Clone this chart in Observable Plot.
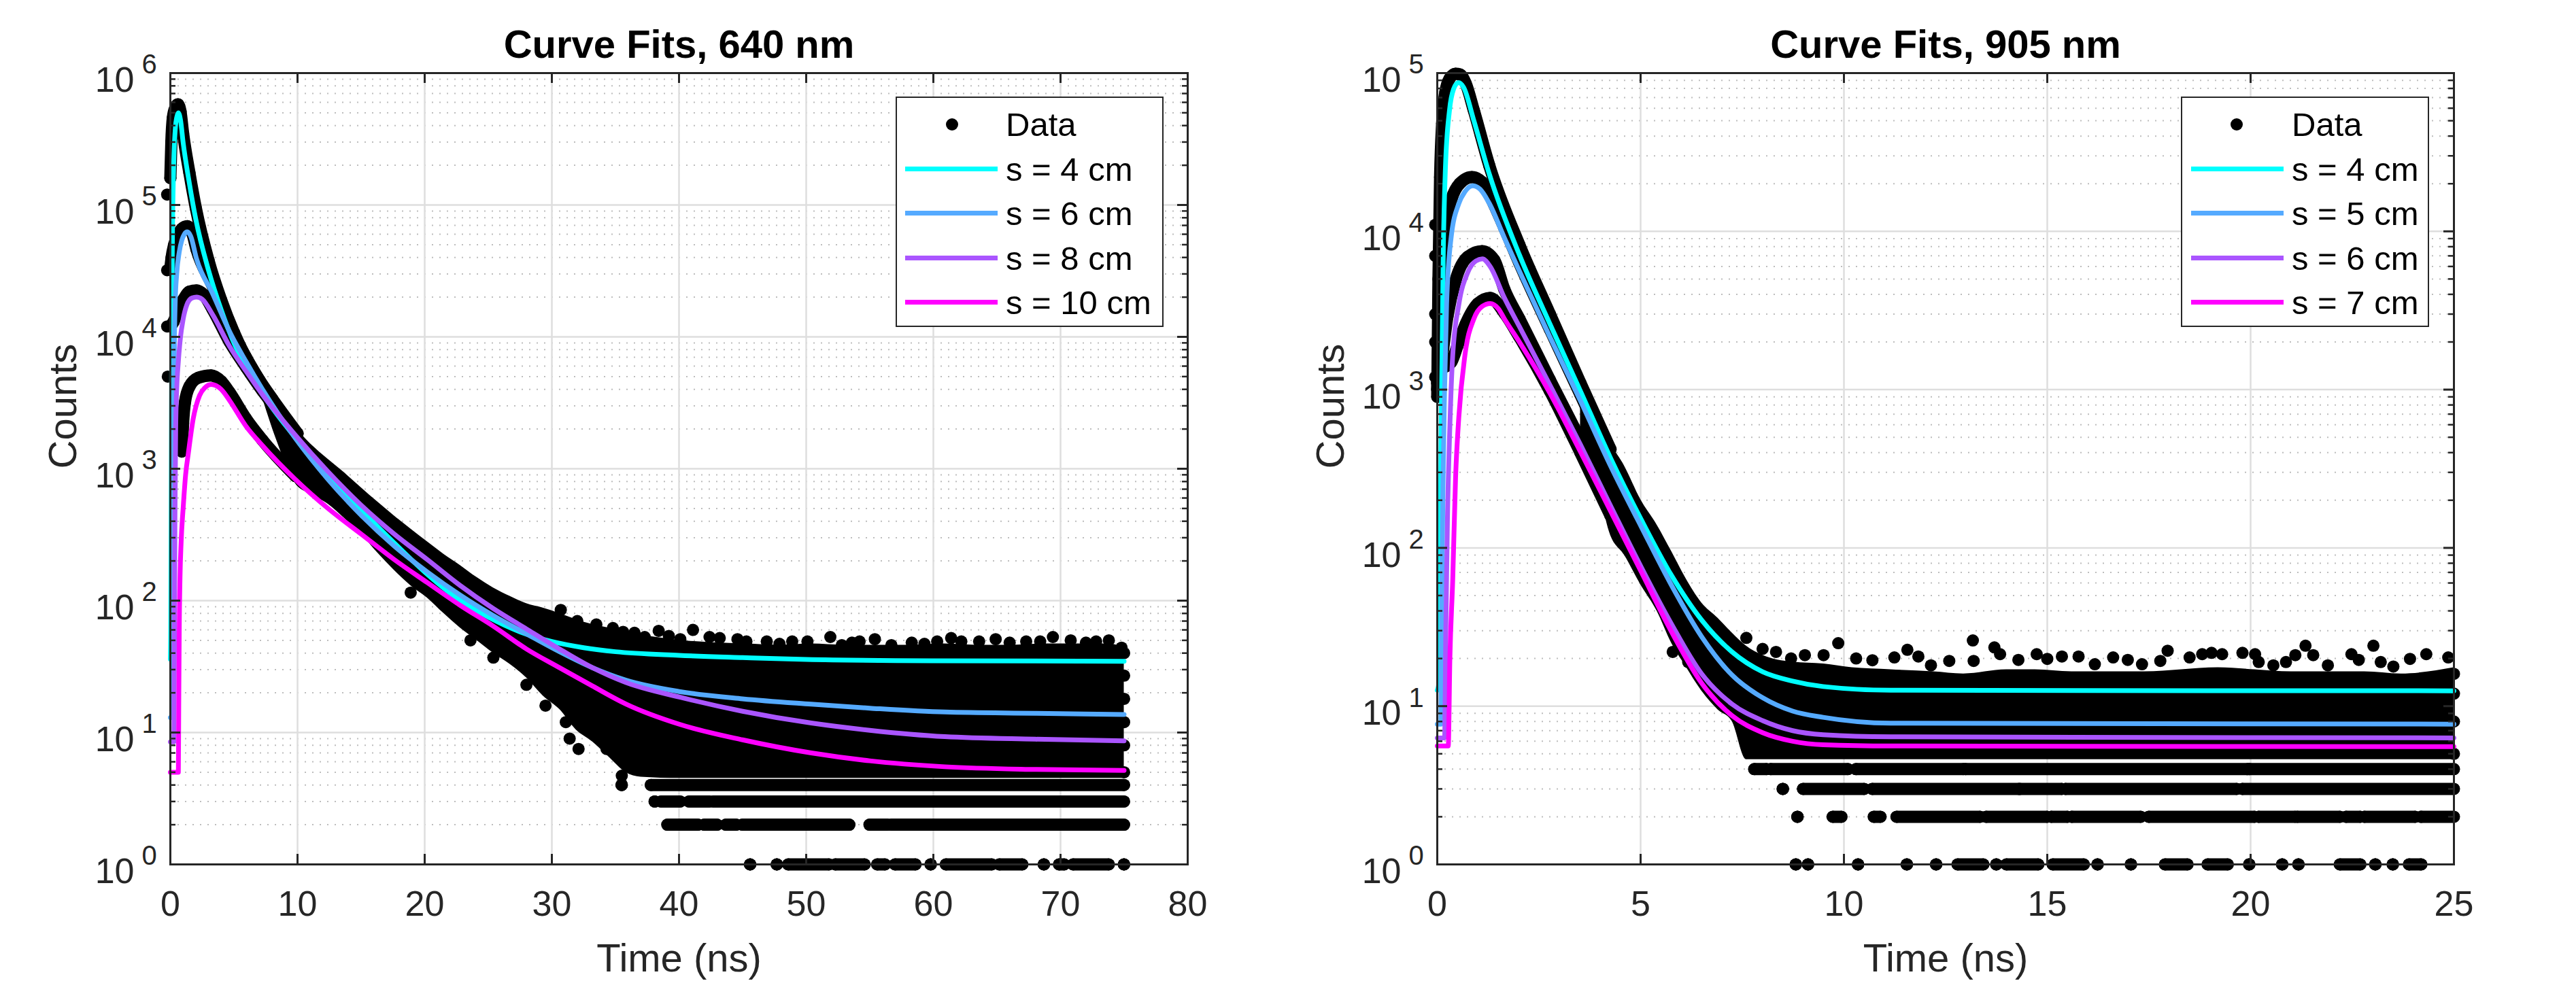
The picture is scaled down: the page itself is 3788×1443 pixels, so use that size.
<!DOCTYPE html>
<html>
<head>
<meta charset="utf-8">
<script src="https://cdn.jsdelivr.net/npm/d3@7"></script>
<script src="https://cdn.jsdelivr.net/npm/@observablehq/plot@0.6"></script>
<style>
  html, body { margin: 0; padding: 0; background: #fff; }
  body { width: 3788px; height: 1443px; position: relative; overflow: hidden; font-family: "Liberation Sans", Arial, sans-serif; }
  .panel { position: absolute; top: 0; width: 1894px; height: 1443px; }
  .panel svg { max-width: none !important; overflow: visible; }
  .legend { position: absolute; top: 142px; height: 339px; box-sizing: border-box; border: 2px solid #262626; background: #fff; }
  .lrow { position: absolute; left: 0; right: 0; height: 60px; }
  .lline { position: absolute; width: 136px; height: 7px; top: 26px; }
  .ldot { position: absolute; top: 21px; width: 18px; height: 18px; border-radius: 50%; background: #000; }
  .ltext { position: absolute; top: 0; line-height: 60px; font-size: 49px; color: #000; white-space: nowrap; }
</style>
</head>
<body>
<div id="left" class="panel" style="left:0px"></div>
<div id="right" class="panel" style="left:1894px"></div>
<script>
// ---------- shared ----------
const colors = ["#00FFFF", "#55AAFF", "#AA55FF", "#FF00FF"];
const dataLabel = "Data";

// ---------- 640 nm panel ----------
const title640 = "Curve Fits, 640 nm";
const labels640 = ["s = 4 cm", "s = 6 cm", "s = 8 cm", "s = 10 cm"];
const xTicks640 = [0, 10, 20, 30, 40, 50, 60, 70, 80];
const yDecades640 = [1, 10, 100, 1e3, 1e4, 1e5, 1e6];

const fit640_s4 = [[0,36],[0.03,60],[0.06,400],[0.1,5000],[0.15,4e4],[0.25,1.8e5],[0.4,3.9e5],[0.5,4.6e5],[0.63,5.0e5],[0.8,4.4e5],[1.0,3.0e5],[1.5,1.45e5],[2.0,7.8e4],[3.0,3.2e4],[4.0,1.6e4],[5.0,9000],[6.0,5800],[7.0,4000],[8.0,2900],[10,1650],[12.5,900],[15,490],[17.5,280],[20,165],[22.5,105],[25,75],[27.5,58],[30,49],[32.5,44],[35,41],[40,38.5],[45,37],[50,35.8],[60,35],[75,34.7]];
const fit640_s6 = [[0,13],[0.18,13],[0.22,60],[0.26,800],[0.3,6000],[0.38,1.8e4],[0.5,3.0e4],[0.7,4.4e4],[0.9,5.4e4],[1.1,6.0e4],[1.33,6.25e4],[1.6,5.8e4],[2.06,3.9e4],[3.35,2.1e4],[4.65,1.1e4],[5.95,6500],[7.24,4000],[9.83,1700],[12.4,830],[15,445],[17.6,260],[20.2,165],[22.8,110],[25.4,77],[28,56],[30.6,41],[33.2,31],[35.8,25],[40.1,20.4],[45,18],[50.4,16.4],[55,15.3],[60.9,14.3],[68,14],[75,13.7]];
const fit640_s8 = [[0,8.5],[0.28,8.5],[0.32,50],[0.36,400],[0.42,2000],[0.5,4000],[0.63,6500],[0.8,1.0e4],[1.0,1.35e4],[1.3,1.75e4],[1.7,1.97e4],[2.06,2.0e4],[2.5,1.93e4],[3.35,1.46e4],[4.65,8500],[5.95,5500],[7.24,3650],[9.83,1800],[12.4,950],[15,530],[17.6,320],[20.2,205],[22.8,130],[25.4,87],[28,61],[30.6,43],[33.2,31],[35.8,24],[40.1,18.5],[45,14.5],[50.4,11.8],[55,10.4],[60.9,9.3],[68,8.9],[75,8.65]];
const fit640_s10 = [[0,5],[0.63,5],[0.66,15],[0.7,60],[0.76,150],[0.85,280],[1.02,525],[1.2,900],[1.41,1300],[1.8,2400],[2.3,3600],[2.7,4100],[3.22,4360],[4.0,4000],[4.65,3300],[5.95,2100],[7.24,1500],[9.83,830],[12.4,500],[15,320],[17.6,205],[20.2,137],[22.8,92],[25.4,64],[28,43],[30.6,31],[33.2,22.5],[35.8,16.5],[40.1,11.5],[45,8.8],[50.4,7.0],[55,6.1],[60.9,5.5],[68,5.25],[75,5.16]];

const data640_s4 = [[0,1.6e5],[0.08,3e5],[0.2,4.6e5],[0.4,5.5e5],[0.6,5.8e5],[0.8,5.1e5],[1.0,3.5e5],[1.5,1.75e5],[2.0,9.5e4],[3.0,3.8e4],[4.0,1.9e4],[5.0,1.08e4],[6.0,6800],[7.0,4700],[8.0,3400],[10,1850]];
const data640_s6 = [[0,3.3e4],[0.1,4.0e4],[0.3,5.0e4],[0.6,6.0e4],[0.9,6.6e4],[1.33,6.9e4],[1.7,6.2e4],[2.06,4.6e4],[3.35,2.4e4],[4.65,1.2e4],[5.95,7000],[7.24,4300],[9.83,1800]];
const data640_s8 = [[0,1.2e4],[0.25,1.3e4],[0.6,1.6e4],[1.0,1.9e4],[1.5,2.2e4],[2.06,2.25e4],[2.6,2.1e4],[3.35,1.6e4],[4.65,9200],[5.95,5900],[7.24,3900],[9.83,1900]];
const data640_s10 = [[0.9,1350],[1.0,2200],[1.15,3200],[1.5,4200],[2.2,4900],[3.2,5100],[4.0,4600],[4.65,3800],[5.95,2400],[7.24,1650],[9.83,880]];

// noisy part of the data cloud: [time, lowest count edge, highest count edge]
const band640 = [[7.3,3300,3500],[8.3,1700,2800],[9.8,780,2050],[11,640,1550],[12.4,540,1180],[13.7,420,930],[15,320,720],[16.3,230,560],[17.6,170,440],[18.9,130,350],[20.2,105,280],[21.5,80,225],[22.8,62,185],[24.1,50,150],[25.4,40,125],[26.7,33,108],[28,26,95],[29.3,19,88],[30.6,15,80],[31.9,10.5,72],[33.2,8.5,66],[34.5,6.5,62],[35.8,5.0,58],[37,4.6,55],[40.1,4.5,50],[42.7,4.5,48],[45.3,4.5,47],[47.9,4.5,46],[50.4,4.5,47],[53,4.5,46],[55.6,4.5,46],[58.2,4.5,46],[60.8,4.5,47],[63.4,4.5,46],[66,4.5,46],[68.6,4.5,47],[71.2,4.5,47],[73.8,4.5,47],[75,4.5,44]];
// discrete low-count rows: [count, from time, to time]
const rows640 = [[4,35.5,35.5],[4,37.8,75],[3,38.1,38.1],[3,38.6,40.1],[3,40.8,42.4],[3,42.7,75],[2,39.1,41.5],[2,42,43],[2,43.7,44.5],[2,45,53.4],[2,55,56.4],[2,56.7,75],[1,45.6,45.6],[1,47.7,47.7],[1,48.6,51.8],[1,52.3,54.6],[1,55.6,56.2],[1,57,58.6],[1,59.8,59.8],[1,61,64.6],[1,65.2,67],[1,68.7,68.7],[1,69.9,70.3],[1,71,73.8],[1,75,75]];
// single points along the ragged edges of the cloud
const extra640 = [[-0.25,1.2e5],[-0.25,3.2e4],[-0.25,1.2e4],[-0.2,5000],[27.2,90],[28.8,80],[30.3,74],[30.7,85],[32,70],[33.5,66],[34.8,62],[35.6,58],[36.5,57],[37.3,53],[38.4,59],[39.2,54],[40.1,51],[41.1,60],[42.4,53],[43.2,52],[44.6,51],[45.3,49],[46.9,49],[47.9,47],[48.9,49],[50.1,49],[51.9,53],[52.8,46],[53.6,48],[54.2,49],[55.4,51],[56.7,46],[58.3,48],[59.3,47],[60.3,49],[61.4,52],[62.2,49],[63.6,49],[64.9,51],[66.0,48],[67.3,49],[68.4,49],[69.4,53],[70.8,50],[72.0,48],[72.8,49],[73.8,50],[74.8,44],[18.9,115],[23.6,50],[25.4,37],[28,23],[29.5,16],[31.1,12],[31.4,9],[32.1,7.5],[34.3,7.5],[35.5,4.7],[75,5],[75,8],[75,12],[75,18],[75,27],[75,40]];

// ---------- 905 nm panel ----------
const title905 = "Curve Fits, 905 nm";
const labels905 = ["s = 4 cm", "s = 5 cm", "s = 6 cm", "s = 7 cm"];
const xTicks905 = [0, 5, 10, 15, 20, 25];
const yDecades905 = [1, 10, 100, 1e3, 1e4, 1e5];

const fit905_s4 = [[0,12.6],[0.04,14],[0.07,100],[0.1,700],[0.15,8000],[0.2,2.5e4],[0.3,5.8e4],[0.4,7.9e4],[0.52,8.7e4],[0.65,8.1e4],[0.9,5.0e4],[1.28,2.3e4],[2.02,7100],[2.77,2600],[3.52,980],[4.26,370],[5.01,152],[5.76,67],[6.5,35],[7.25,22],[8.0,16.5],[8.74,14.4],[9.49,13.3],[11.15,12.6],[25,12.5]];
const fit905_s5 = [[0,7.7],[0.09,7.7],[0.11,40],[0.14,250],[0.18,1000],[0.23,3500],[0.34,9100],[0.53,1.5e4],[0.68,1.78e4],[0.87,1.94e4],[1.05,1.85e4],[1.28,1.5e4],[1.65,9100],[2.02,5600],[2.77,2150],[3.52,850],[4.26,330],[5.01,137],[5.76,58],[6.5,27.5],[7.25,15.7],[8.0,11.3],[8.74,9.3],[9.49,8.5],[11.15,7.8],[25,7.7]];
const fit905_s6 = [[0,6.3],[0.18,6.3],[0.21,30],[0.25,150],[0.31,590],[0.38,1650],[0.53,3450],[0.75,5500],[0.95,6500],[1.11,6700],[1.3,6000],[1.65,3800],[2.02,2500],[2.77,1070],[3.52,450],[4.26,185],[5.01,76],[5.76,33],[6.5,16],[7.25,10.3],[8.0,8.1],[8.74,7],[9.49,6.6],[11.15,6.4],[25,6.3]];
const fit905_s7 = [[0,5.6],[0.27,5.6],[0.31,20],[0.38,63],[0.45,277],[0.53,670],[0.68,1650],[0.9,2800],[1.1,3350],[1.3,3500],[1.5,3250],[1.65,2800],[2.02,2000],[2.77,950],[3.52,405],[4.26,171],[5.01,71],[5.76,29.5],[6.5,14],[7.25,8.7],[8.0,6.8],[8.74,6.0],[9.49,5.7],[11.15,5.6],[25,5.55]];

const data905_s4 = [[0,900],[0.03,5000],[0.07,2.2e4],[0.12,4.8e4],[0.2,7.6e4],[0.3,9.2e4],[0.45,9.9e4],[0.56,9.8e4],[0.7,8.6e4],[0.9,5.8e4],[1.28,2.6e4],[2.02,8200],[2.77,3000],[3.52,1100],[4.26,420]];
const data905_s5 = [[0,1000],[0.04,3000],[0.1,6500],[0.2,1.1e4],[0.35,1.6e4],[0.55,2.0e4],[0.85,2.2e4],[1.1,2.05e4],[1.28,1.7e4],[1.65,1.05e4],[2.02,6300],[2.77,2400],[3.52,930],[4.26,360]];
const data905_s6 = [[0,1100],[0.1,1500],[0.25,2900],[0.45,4900],[0.75,6900],[1.1,7500],[1.4,6600],[1.65,4300],[2.02,2800],[2.77,1150],[3.52,480],[4.26,195]];
const data905_s7 = [[0.2,1400],[0.35,1500],[0.5,1900],[0.7,2600],[1.0,3500],[1.3,3800],[1.65,3050],[2.02,2150],[2.77,980],[3.52,400],[4.26,160]];

const band905 = [[3.52,390,1150],[3.9,270,760],[4.26,120,460],[4.6,90,330],[5.01,58,200],[5.4,40,140],[5.76,25,95],[6.1,18,65],[6.5,12.5,45],[6.9,9.5,36],[7.25,8,29],[7.6,4.6,24],[8.0,4.6,21],[8.74,4.6,19],[9.5,4.6,18.5],[10.2,4.6,17.5],[11.15,4.6,17],[12.2,4.6,16.5],[12.94,4.6,16],[14.0,4.6,17],[14.7,4.6,17],[15.6,4.6,16.5],[16.5,4.6,16.5],[17.4,4.6,16.5],[18.3,4.6,17],[19.2,4.6,17.5],[20.1,4.6,17],[21.0,4.6,16.5],[21.9,4.6,16.5],[22.8,4.6,16.5],[23.7,4.6,16],[25,4.6,17.5]];
const rows905 = [[4,7.8,8.1],[4,8.2,10.1],[4,10.3,12.94],[4,12.99,19.93],[4,19.97,25],[3,8.5,8.5],[3,9.0,10.5],[3,10.7,14.3],[3,14.33,15.36],[3,15.45,19.66],[3,19.8,25],[2,8.86,8.86],[2,9.73,9.94],[2,10.74,10.9],[2,11.3,13.35],[2,13.5,15.0],[2,15.1,15.5],[2,15.6,17.3],[2,17.5,20.1],[2,20.2,21.1],[2,21.15,22.2],[2,22.35,22.7],[2,22.8,24.05],[2,24.2,25],[1,8.82,8.82],[1,9.12,9.12],[1,10.35,10.35],[1,11.55,11.55],[1,12.27,12.27],[1,12.8,13.43],[1,13.75,13.75],[1,14.0,14.78],[1,15.14,15.9],[1,16.24,16.24],[1,17.06,17.06],[1,17.9,18.45],[1,18.95,19.44],[1,19.97,19.97],[1,20.78,20.78],[1,21.18,21.18],[1,22.2,22.7],[1,23.07,23.07],[1,23.5,23.5],[1,23.9,24.2]];
const extra905 = [[-0.05,1.1e4],[-0.05,7000],[-0.05,3000],[-0.05,2000],[-0.05,1200],[5.79,22],[6.17,19],[7.6,27],[8.0,23],[8.33,22],[8.7,20],[9.04,21],[9.5,21],[9.86,25],[10.3,20],[10.7,19.5],[11.24,20.3],[11.56,22.7],[11.83,20.6],[12.14,18.1],[12.59,19.3],[13.17,26.0],[13.19,19.3],[13.7,23.5],[13.84,21.3],[14.29,19.6],[14.74,21.3],[15.0,19.9],[15.36,20.6],[15.77,20.6],[16.17,18.4],[16.62,20.3],[16.98,19.6],[17.33,18.4],[17.78,19.3],[17.96,22.4],[18.5,20.3],[18.81,21.3],[19.04,21.7],[19.3,21.3],[19.8,21.7],[20.11,21.3],[20.2,19.0],[20.56,18.1],[20.87,19.0],[21.1,21.0],[21.35,24.1],[21.54,21.0],[21.9,18.1],[22.48,21.3],[22.66,19.6],[23.02,24.1],[23.2,19.0],[23.51,17.8],[23.92,19.9],[24.32,21.3],[24.86,20.3],[25,5],[25,8],[25,12],[25,16]];

// ---------- drawing ----------
function drawPanel(o) {
  const H = 1443, mt = 107, mb = 172;
  const innerW = o.width - o.ml - o.mr, innerH = H - mt - mb;
  const minor = [];
  o.decades.slice(0, -1).forEach(d => { for (let k = 2; k < 10; k++) minor.push(d * k); });
  const X = d => d[0], Y = d => d[1];
  const ax = "#262626";
  const marks = [
    Plot.ruleY(minor, {y: d => d, stroke: "#bdbdbd", strokeWidth: 2, strokeDasharray: "2,9"}),
    Plot.ruleY(o.decades, {y: d => d, stroke: "#dedede", strokeWidth: 2.5}),
    Plot.ruleX(o.xTicks, {x: d => d, stroke: "#dedede", strokeWidth: 2.5}),
    Plot.areaY(o.band, {x: X, y1: d => d[1], y2: d => d[2], fill: "#000", curve: "monotone-x"}),
    Plot.ruleY(o.rows, {y: d => d[0], x1: d => d[1], x2: d => d[2], stroke: "#000", strokeWidth: 18, strokeLinecap: "round"}),
    Plot.dot(o.rows, {x: d => d[1], y: d => d[0], r: 9, fill: "#000"}),
    Plot.dot(o.rows, {x: d => d[2], y: d => d[0], r: 9, fill: "#000"}),
    ...o.data.map(tr => Plot.line(tr, {x: X, y: Y, stroke: "#000", strokeWidth: 18, strokeLinecap: "round", strokeLinejoin: "round", curve: "monotone-x"})),
    ...o.data.map(tr => Plot.dot(tr, {x: X, y: Y, r: 9, fill: "#000"})),
    Plot.dot(o.extra, {x: X, y: Y, r: 9, fill: "#000"}),
    ...o.fits.map((f, i) => Plot.line(f, {x: X, y: Y, stroke: colors[i], strokeWidth: 7, curve: "monotone-x"})),
    Plot.frame({stroke: ax, strokeWidth: 3}),
    Plot.ruleX(o.xTicks, {x: d => d, stroke: ax, strokeWidth: 3, insetTop: innerH - 15}),
    Plot.ruleX(o.xTicks, {x: d => d, stroke: ax, strokeWidth: 3, insetBottom: innerH - 15}),
    Plot.ruleY(o.decades, {y: d => d, stroke: ax, strokeWidth: 3, insetRight: innerW - 15}),
    Plot.ruleY(o.decades, {y: d => d, stroke: ax, strokeWidth: 3, insetLeft: innerW - 15}),
    Plot.ruleY(minor, {y: d => d, stroke: ax, strokeWidth: 2.5, insetRight: innerW - 8}),
    Plot.ruleY(minor, {y: d => d, stroke: ax, strokeWidth: 2.5, insetLeft: innerW - 8}),
    Plot.text(o.xTicks, {x: d => d, text: d => String(d), frameAnchor: "bottom", dy: 59, fontSize: 52, fill: ax, lineAnchor: "middle"}),
    Plot.text(o.decades, {y: d => d, text: () => "10", frameAnchor: "left", dx: -53, dy: 11, textAnchor: "end", fontSize: 52, fill: ax, lineAnchor: "middle"}),
    Plot.text(o.decades, {y: d => d, text: d => String(Math.round(Math.log10(d))), frameAnchor: "left", dx: -42, dy: -12, textAnchor: "start", fontSize: 40, fill: ax, lineAnchor: "middle"}),
    Plot.text([o.title], {text: d => d, frameAnchor: "top", dy: -41, fontSize: 58, fontWeight: "bold", fill: "#000", lineAnchor: "middle"}),
    Plot.text(["Time (ns)"], {text: d => d, frameAnchor: "bottom", dy: 139, fontSize: 58, fill: ax, lineAnchor: "middle"}),
    Plot.text(["Counts"], {text: d => d, frameAnchor: "left", dx: o.ylabelDx, rotate: -90, fontSize: 58, fill: ax, lineAnchor: "middle"})
  ];
  return Plot.plot({
    width: o.width, height: H,
    marginTop: mt, marginBottom: mb, marginLeft: o.ml, marginRight: o.mr,
    x: {domain: o.xDomain, axis: null},
    y: {type: "log", domain: o.yDomain, axis: null},
    style: {fontFamily: "'Liberation Sans', Arial, sans-serif", background: "transparent", overflow: "visible"},
    marks
  });
}

function drawLegend(left, width, labels, lineLeft, dotCenter, textLeft) {
  const box = document.createElement("div");
  box.className = "legend";
  box.style.left = left + "px";
  box.style.width = width + "px";
  const entries = [{label: dataLabel, dot: true}].concat(labels.map((l, i) => ({label: l, color: colors[i]})));
  entries.forEach((e, i) => {
    const row = document.createElement("div");
    row.className = "lrow";
    row.style.top = (41 + 65.6 * i - 30 - 2) + "px";
    const sw = document.createElement("div");
    if (e.dot) { sw.className = "ldot"; sw.style.left = (dotCenter - 9) + "px"; }
    else { sw.className = "lline"; sw.style.left = lineLeft + "px"; sw.style.background = e.color; }
    row.appendChild(sw);
    const tx = document.createElement("span");
    tx.className = "ltext";
    tx.style.left = textLeft + "px";
    tx.textContent = e.label;
    row.appendChild(tx);
    box.appendChild(row);
  });
  document.body.appendChild(box);
}

document.getElementById("left").appendChild(drawPanel({
  width: 1894, ml: 250, mr: 148, xDomain: [0, 80], yDomain: [1, 1e6],
  xTicks: xTicks640, decades: yDecades640, title: title640, ylabelDx: -157,
  fits: [fit640_s4, fit640_s6, fit640_s8, fit640_s10],
  data: [data640_s4, data640_s6, data640_s8, data640_s10],
  band: band640, rows: rows640, extra: extra640
}));
document.getElementById("right").appendChild(drawPanel({
  width: 1894, ml: 219, mr: 180, xDomain: [0, 25], yDomain: [1, 1e5],
  xTicks: xTicks905, decades: yDecades905, title: title905, ylabelDx: -156,
  fits: [fit905_s4, fit905_s5, fit905_s6, fit905_s7],
  data: [data905_s4, data905_s5, data905_s6, data905_s7],
  band: band905, rows: rows905, extra: extra905
}));
drawLegend(1317, 394, labels640, 12, 81, 160);
drawLegend(3207, 365, labels905, 13, 80, 161);
</script>
</body>
</html>
